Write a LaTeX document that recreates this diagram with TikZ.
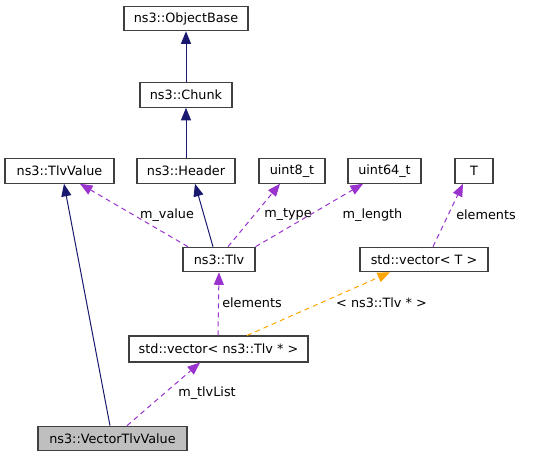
\documentclass[tikz,border=0pt]{standalone}
\usepackage{fontspec}
\setmainfont{DejaVu Sans}
\usetikzlibrary{arrows.meta,calc}
\definecolor{inh}{HTML}{191970}
\definecolor{usg}{HTML}{9A32CD}
\definecolor{tpl}{HTML}{FFA500}
\definecolor{bord}{HTML}{404040}
\definecolor{focus}{HTML}{BFBFBF}
\begin{document}
\begin{tikzpicture}[x=1pt,y=-1pt,
  box/.style={draw=bord,line width=1.1pt,fill=white,minimum height=24.5pt,inner sep=0pt,font=\fontsize{12.8}{14}\selectfont},
  lbl/.style={font=\fontsize{12.8}{14}\selectfont,inner sep=0pt,text=black},
  inhedge/.style={draw=inh,line width=1pt,-{Triangle[length=12.5pt,width=10pt,fill=inh]}},
  usgedge/.style={draw=usg,line width=1pt,dash pattern=on 5pt off 4pt,-{Triangle[length=12.5pt,width=10pt,fill=usg]}},
  tpledge/.style={draw=tpl,line width=1pt,dash pattern=on 5pt off 4pt,-{Triangle[length=12.5pt,width=10pt,fill=tpl]}}]
\useasboundingbox (0,0) rectangle (533,457);
\fill[white] (0,0) rectangle (533,457);
\node[box,minimum width=124pt] (ob) at (186,18.5) {ns3::ObjectBase};
\node[box,minimum width=92pt] (chunk) at (186,95) {ns3::Chunk};
\node[box,minimum width=109pt] (tv) at (59.5,171) {ns3::TlvValue};
\node[box,minimum width=98pt] (hdr) at (186,171) {ns3::Header};
\node[box,minimum width=66pt] (u8) at (292,171) {uint8\_t};
\node[box,minimum width=73pt] (u64) at (384.5,171) {uint64\_t};
\node[box,minimum width=38pt] (T) at (474,171) {T};
\node[box,minimum width=72pt] (tlv) at (219,259.5) {ns3::Tlv};
\node[box,minimum width=128pt] (vt) at (424,259.5) {std::vector< T >};
\node[box,minimum width=179pt,minimum height=26pt] (vtlv) at (218.5,349) {std::vector< ns3::Tlv * >};
\node[box,minimum width=149pt,fill=focus] (vtv) at (112.5,438.5) {ns3::VectorTlvValue};
% inheritance
\draw[inhedge] (chunk.north) -- (ob.south);
\draw[inhedge] (hdr.north) -- (chunk.south);
\draw[inhedge] ($(tlv.north)+(-6,0)$) -- ($(hdr.south)+(9,0)$);
\draw[inhedge] ($(vtv.north)+(-2.5,0)$) -- ($(tv.south)+(4.5,0)$);
% usage
\draw[usgedge] ($(tlv.north)+(-31,0)$) -- ($(tv.south)+(20.5,0)$);
\draw[usgedge] ($(tlv.north)+(9,0)$) -- ($(u8.south)+(-12,0)$);
\draw[usgedge] ($(tlv.north east)+(0,0)$) -- ($(u64.south)+(-21.5,0)$);
\draw[usgedge] ($(vt.north)+(9,0)$) -- ($(T.south)+(-11,0)$);
\draw[usgedge] ($(vtlv.north)+(-0.5,0)$) -- (tlv.south);
\draw[tpledge] ($(vtlv.north)+(28.5,0)$) -- ($(vt.south)+(-34,0)$);
\draw[usgedge] ($(vtv.north)+(14.5,0)$) -- ($(vtlv.south)+(-18.5,0)$);
% labels
\node[lbl] (l1) at (167,215) {m\_value};
\node[lbl] (l2) at (288,215) {m\_type};
\node[lbl] (l3) at (372.5,215) {m\_length};
\node[lbl] (l4) at (486,215) {elements};
\node[lbl] (l5) at (252,303) {elements};
\node[lbl] (l6) at (381.5,303) {< ns3::Tlv * >};
\node[lbl] (l7) at (207,393) {m\_tlvList};
\end{tikzpicture}
\end{document}
